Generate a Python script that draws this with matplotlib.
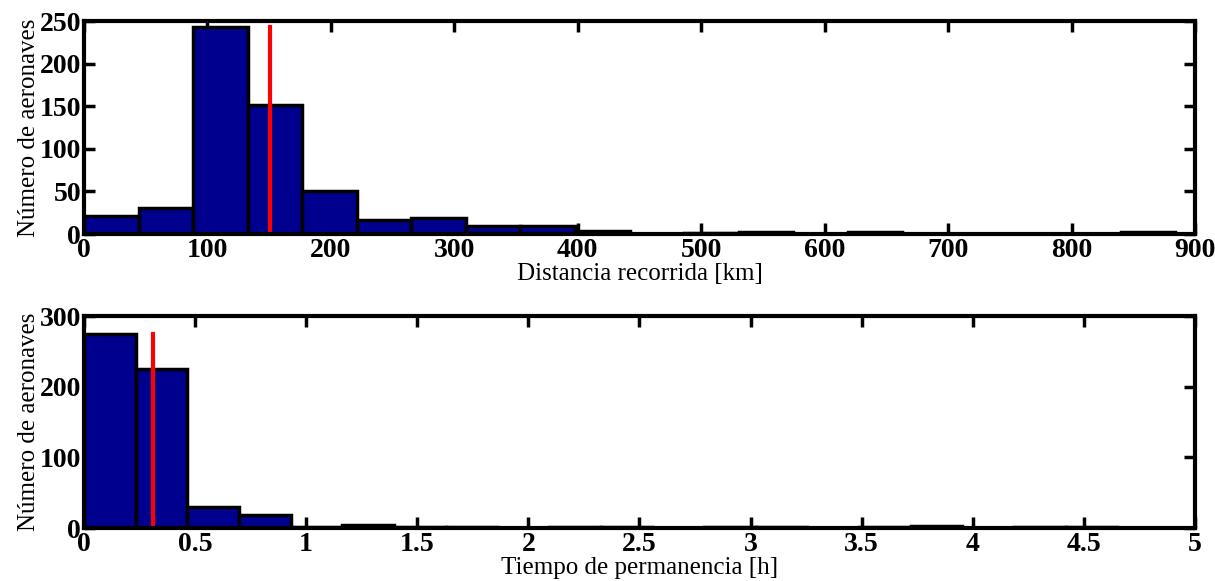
import numpy as np
import matplotlib.pyplot as plt

# --- Data ---
# distancia recorrida [km], 20 bins
dist_edges_max = 884
dist_counts = [21, 30, 243, 151, 51, 17, 19, 9, 10, 3, 0, 1, 2, 0, 2, 0, 0, 0, 0, 2]
dist_mean = 151

# tiempo de permanencia [h], 20 bins
time_edges_max = 4.65
time_counts = [275, 225, 30, 18, 1, 4, 2, 2, 0, 1, 1, 0, 1, 1, 0, 1, 3, 0, 1, 1]
time_mean = 0.31

dist_xticks = [0, 100, 200, 300, 400, 500, 600, 700, 800, 900]
dist_yticks = [0, 50, 100, 150, 200, 250]
time_xticks = [0, 0.5, 1, 1.5, 2, 2.5, 3, 3.5, 4, 4.5, 5]
time_yticks = [0, 100, 200, 300]

plt.rcParams['font.family'] = ['Liberation Serif', 'DejaVu Serif']

fig = plt.figure(figsize=(12.15, 5.81), dpi=100)
ax1 = fig.add_axes([0.0691, 0.5972, 0.9144, 0.3666])
ax2 = fig.add_axes([0.0691, 0.0912, 0.9144, 0.3649])


def draw_hist(ax, counts, xmax, mean, xlim, ylim, xticks, yticks, xlabel):
    edges = np.linspace(0, xmax, len(counts) + 1)
    ax.bar(edges[:-1], counts, width=np.diff(edges), align='edge',
           color='#00008F', edgecolor='black', linewidth=2.5, zorder=2)
    ax.plot([mean, mean], [0, max(counts)], color='#FF0000', linewidth=3, zorder=3)
    ax.set_xlim(*xlim)
    ax.set_ylim(*ylim)
    ax.set_xticks(xticks)
    ax.set_yticks(yticks)
    ax.set_xticklabels([f'{t:g}' for t in xticks])
    ax.tick_params(direction='in', length=8, width=2.5, top=True, right=True,
                   labelsize=20, pad=3)
    ax.tick_params(axis='y', pad=2)
    for lab in ax.get_xticklabels() + ax.get_yticklabels():
        lab.set_fontweight('bold')
    for s in ax.spines.values():
        s.set_linewidth(3)
        s.set_zorder(4)
    ax.set_xlabel(xlabel, fontsize=18, labelpad=0)
    ax.set_ylabel('Número de aeronaves', fontsize=18, labelpad=0)


draw_hist(ax1, dist_counts, dist_edges_max, dist_mean, (0, 900), (0, 250),
          dist_xticks, dist_yticks, 'Distancia recorrida [km]')
draw_hist(ax2, time_counts, time_edges_max, time_mean, (0, 5), (0, 300),
          time_xticks, time_yticks, 'Tiempo de permanencia [h]')

fig.savefig('out.png', dpi=100)
